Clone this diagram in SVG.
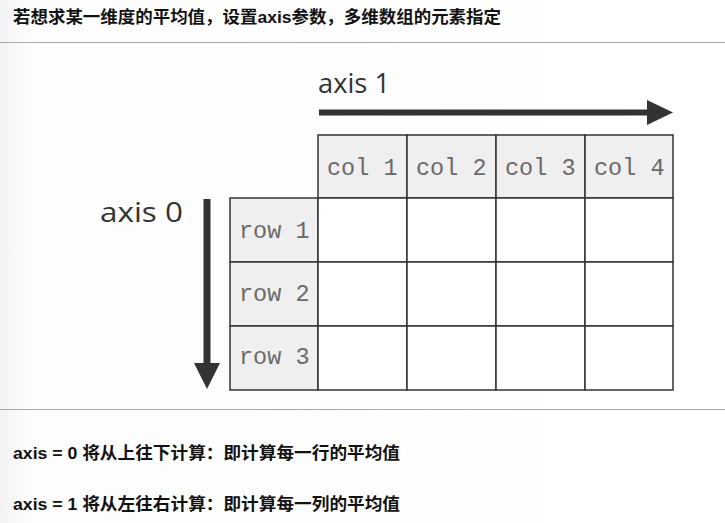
<svg xmlns="http://www.w3.org/2000/svg" width="725" height="523" viewBox="0 0 725 523">
<style>
.hd{font-family:"Liberation Sans","Noto Sans CJK SC",sans-serif;font-weight:bold;fill:#111}
.ax{font-family:"Open Sans","Liberation Sans",sans-serif;font-weight:400;font-size:27px;fill:#333}
.cell{font-family:"Liberation Mono",monospace;font-size:23.5px;fill:#6a6a6a}
.hc{fill:#efefef;stroke:#333;stroke-width:1.5}
.bc{fill:#fff;stroke:#333;stroke-width:1.5}
</style>
<defs>
<linearGradient id="lg" x1="0" x2="1" y1="0" y2="0">
<stop offset="0" stop-color="#f2f2f2"/><stop offset="0.04" stop-color="#fdfdfd"/><stop offset="1" stop-color="#fff"/>
</linearGradient>
</defs>
<rect width="725" height="523" fill="url(#lg)"/>
<text class="hd" x="13" y="23" font-size="16.5" textLength="488" lengthAdjust="spacingAndGlyphs">若想求某一维度的平均值，设置axis参数，多维数组的元素指定</text>
<line x1="0" y1="42.5" x2="725" y2="42.5" stroke="#aaa" stroke-width="1"/>
<line x1="0" y1="409.5" x2="725" y2="409.5" stroke="#aaa" stroke-width="1"/>

<g id="axis1">
<text class="ax" x="318" y="93" textLength="72" lengthAdjust="spacingAndGlyphs">axis 1</text>
</g>
<g id="axis0">
<text class="ax" x="100" y="222" textLength="83" lengthAdjust="spacingAndGlyphs">axis 0</text>
</g>
<g id="connectors">
<line x1="319" y1="112.5" x2="650" y2="112.5" stroke="#333" stroke-width="6"/>
<polygon points="647,100 673,112.5 647,125" fill="#333"/>
<line x1="207" y1="199" x2="207" y2="366" stroke="#333" stroke-width="7"/>
<polygon points="194,363 207,389 220,363" fill="#333"/>
</g>

<g id="col-headers">
<rect class="hc" x="318" y="135" width="89" height="63"/>
<rect class="hc" x="407" y="135" width="89" height="63"/>
<rect class="hc" x="496" y="135" width="89" height="63"/>
<rect class="hc" x="585" y="135" width="88" height="63"/>
<text class="cell" x="327" y="175">col 1</text>
<text class="cell" x="416" y="175">col 2</text>
<text class="cell" x="505" y="175">col 3</text>
<text class="cell" x="594" y="175">col 4</text>
</g>
<g id="row-headers">
<rect class="hc" x="230" y="198" width="88" height="64"/>
<rect class="hc" x="230" y="262" width="88" height="64"/>
<rect class="hc" x="230" y="326" width="88" height="64"/>
<text class="cell" x="239" y="238">row 1</text>
<text class="cell" x="239" y="301">row 2</text>
<text class="cell" x="239" y="364">row 3</text>
</g>
<g id="cells">
<rect class="bc" x="318" y="198" width="89" height="64"/>
<rect class="bc" x="407" y="198" width="89" height="64"/>
<rect class="bc" x="496" y="198" width="89" height="64"/>
<rect class="bc" x="585" y="198" width="88" height="64"/>
<rect class="bc" x="318" y="262" width="89" height="64"/>
<rect class="bc" x="407" y="262" width="89" height="64"/>
<rect class="bc" x="496" y="262" width="89" height="64"/>
<rect class="bc" x="585" y="262" width="88" height="64"/>
<rect class="bc" x="318" y="326" width="89" height="64"/>
<rect class="bc" x="407" y="326" width="89" height="64"/>
<rect class="bc" x="496" y="326" width="89" height="64"/>
<rect class="bc" x="585" y="326" width="88" height="64"/>
</g>

<text class="hd" x="13" y="459" font-size="17" textLength="387" lengthAdjust="spacingAndGlyphs">axis = 0 将从上往下计算：即计算每一行的平均值</text>
<text class="hd" x="13" y="510" font-size="17" textLength="387" lengthAdjust="spacingAndGlyphs">axis = 1 将从左往右计算：即计算每一列的平均值</text>
</svg>
